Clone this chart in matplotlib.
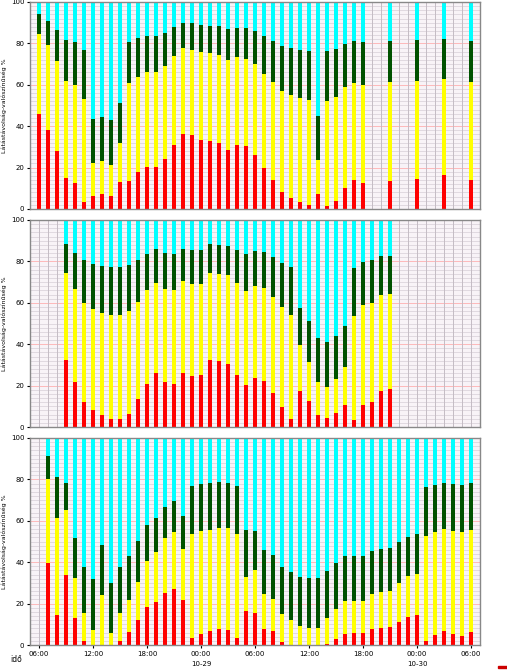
import numpy as np
import matplotlib.pyplot as plt

# Órák 10-28 00:00-tól számolva
hours1 = list(range(6, 43)) + [45, 48, 51, 54]
red1 = [45.9, 38.3, 28.2, 14.8, 12.4, 3.2, 6.4, 7.1, 6.1, 12.9, 13.4, 17.9, 20.3, 20.3, 24.2,
        31.1, 36.4, 35.9, 33.5, 32.9, 31.9, 28.7, 30.8, 30.3, 26.2,
        19.6, 14.2, 8.4, 5.5, 3.5, 2.1, 7.4, 1.6, 4.0, 10.3, 13.8, 12.4,
        13.7, 14.7, 16.3, 14.2]
yellow1 = [84.7, 79.2, 71.7, 62.0, 60.1, 53.1, 22.2, 23.2, 21.1, 32.0, 61.0, 63.9, 66.0, 66.0, 68.9,
           73.8, 77.6, 77.0, 75.7, 75.2, 74.2, 71.8, 73.3, 72.6, 69.9,
           65.4, 61.5, 57.2, 55.2, 53.6, 52.7, 23.7, 52.3, 54.1, 59.1, 61.0, 60.1,
           61.5, 62.0, 63.0, 61.5]
green1 = [94.0, 91.0, 86.6, 81.8, 80.7, 76.8, 43.3, 44.4, 42.8, 51.2, 80.7, 82.6, 83.7, 83.7, 85.0,
          88.1, 89.9, 89.9, 89.0, 88.6, 88.6, 87.1, 87.6, 87.6, 86.2,
          83.7, 81.3, 78.9, 77.8, 76.8, 76.2, 44.9, 76.2, 77.3, 79.9, 81.3, 80.7,
          81.3, 81.8, 82.3, 81.3]

hours2 = list(range(9, 46))
red2 = [32.2, 21.9, 12.2, 8.0, 5.9, 4.0, 4.0, 6.4, 13.5, 20.7, 26.0, 21.9, 20.7, 26.0, 24.8,
        25.2, 32.2, 31.7, 30.5, 25.2, 20.3, 23.6,
        22.2, 16.2, 9.8, 4.0, 17.4, 12.4, 5.9, 4.5, 6.9, 10.8, 3.5, 10.8, 12.2, 17.4, 18.2]
yellow2 = [74.6, 66.9, 59.8, 57.1, 55.3, 54.0, 54.0, 55.9, 60.3, 66.4, 69.8, 66.9, 66.2, 70.3, 69.3,
           69.3, 74.6, 74.1, 73.3, 69.8, 65.9, 68.3,
           67.2, 62.9, 58.0, 54.2, 39.4, 31.5, 21.7, 19.1, 23.2, 29.1, 53.5, 59.0, 60.0, 63.8, 64.3]
green2 = [88.4, 84.2, 80.7, 78.8, 77.8, 77.2, 77.2, 78.3, 80.7, 83.6, 86.0, 84.1, 83.6, 86.0, 85.5,
          85.5, 88.4, 87.9, 87.5, 85.5, 83.6, 85.0,
          84.6, 82.2, 79.3, 77.3, 57.4, 51.1, 42.8, 41.2, 44.2, 48.7, 76.7, 79.6, 80.5, 82.5, 82.5]

hours3 = list(range(7, 55))
red3 = [39.4, 14.6, 33.9, 12.9, 2.1, 0, 0, 0, 2.1, 6.1, 11.9, 18.3, 20.9, 25.2, 27.0, 21.9,
        3.5, 5.5, 6.6, 7.9, 7.1, 3.5, 16.2, 15.4,
        7.9, 6.6, 1.6, 0, 0, 0, 0, 0.6, 3.1, 5.5, 5.9, 5.9, 7.9, 8.4, 8.8, 11.3, 13.3,
        14.3, 2.1, 5.0, 6.9, 5.5, 4.5, 6.4]
yellow3 = [80.1, 61.4, 65.4, 32.5, 15.3, 7.4, 24.3, 5.8, 15.3, 21.7, 30.4, 40.4, 44.9, 51.8, 54.5, 46.5,
           53.7, 55.1, 55.6, 56.6, 56.3, 53.7, 32.8, 36.3,
           24.8, 22.2, 15.0, 11.9, 9.3, 8.4, 8.4, 12.9, 17.2, 21.2, 21.2, 21.2, 24.8, 25.7, 26.2, 30.1, 33.1,
           34.4, 52.7, 54.5, 56.1, 55.1, 54.5, 55.6]
green3 = [91.3, 81.0, 78.1, 51.8, 37.9, 31.7, 48.2, 30.1, 37.9, 42.8, 50.3, 58.0, 61.4, 66.7, 69.8, 62.4,
          76.7, 77.7, 78.3, 78.6, 78.3, 76.7, 55.6, 55.1,
          46.0, 43.4, 37.5, 35.4, 33.0, 32.5, 32.5, 35.9, 39.4, 42.8, 42.8, 42.8, 45.3, 46.3, 46.8, 49.7, 52.1,
          53.5, 76.2, 77.2, 78.1, 77.7, 77.2, 78.1]

tick_hours = [6, 12, 18, 24, 30, 36, 42, 48, 54]
tick_labels = ['06:00', '12:00', '18:00', '00:00', '06:00', '12:00', '18:00', '00:00', '06:00']
date_labels = {24: '10-29', 48: '10-30'}

colors = ['#ff0000', '#ffff00', '#005200', '#00ffff']

fig = plt.figure(figsize=(5.07, 6.70), dpi=100)
left, width, height = 30 / 507, 450 / 507, 207 / 670
bottoms = [1 - 209 / 670, 1 - 427 / 670, 1 - 645 / 670]

panels = [(hours1, red1, yellow1, green1),
          (hours2, red2, yellow2, green2),
          (hours3, red3, yellow3, green3)]

for i, (hrs, r, y, g) in enumerate(panels):
    ax = fig.add_axes([left, bottoms[i], width, height])
    ax.set_facecolor('#f8f3f7')
    r, y, g = np.array(r), np.array(y), np.array(g)
    # rácsvonalak
    for v in np.arange(2, 100, 2):
        c = '#ffb0b0' if v % 20 == 0 else '#dcd4dc'
        ax.axhline(v, color=c, lw=0.6, zorder=0)
    for hh in range(6, 55):
        ax.axvline(hh, color='#c4bcc4', lw=0.7, zorder=0)
    w = 0.34
    ax.bar(hrs, r, w, color=colors[0], zorder=2)
    ax.bar(hrs, y - r, w, bottom=r, color=colors[1], zorder=2)
    ax.bar(hrs, g - y, w, bottom=y, color=colors[2], zorder=2)
    ax.bar(hrs, 100 - g, w, bottom=g, color=colors[3], zorder=2)
    ax.set_xlim(5, 55)
    ax.set_ylim(0, 100)
    ax.set_yticks(range(0, 101, 20))
    ax.tick_params(axis='y', labelsize=5, length=2, pad=2)
    for s in ax.spines.values():
        s.set_color('#888888')
        s.set_linewidth(1)
    ax.set_ylabel('Látástávolság-valószínűség %', fontsize=4.5, labelpad=3)
    ax.set_xticks(tick_hours)
    if i == 2:
        ax.set_xticklabels(tick_labels, fontsize=5)
        ax.tick_params(axis='x', length=2, pad=2)
        for hh, lbl in date_labels.items():
            ax.text(hh, -7.5, lbl, fontsize=5, ha='center', va='top', clip_on=False)
    else:
        ax.set_xticklabels([])
        ax.tick_params(axis='x', length=0)

fig.text(10 / 507, 1 - 660 / 670, 'idő', fontsize=5.5, ha='left', va='center')
fig.patches.append(plt.Rectangle((498 / 507, 1 - 668 / 670), 9 / 507, 2 / 670,
                                 transform=fig.transFigure, color='#cc0000'))

fig.savefig('out.png', dpi=100)
